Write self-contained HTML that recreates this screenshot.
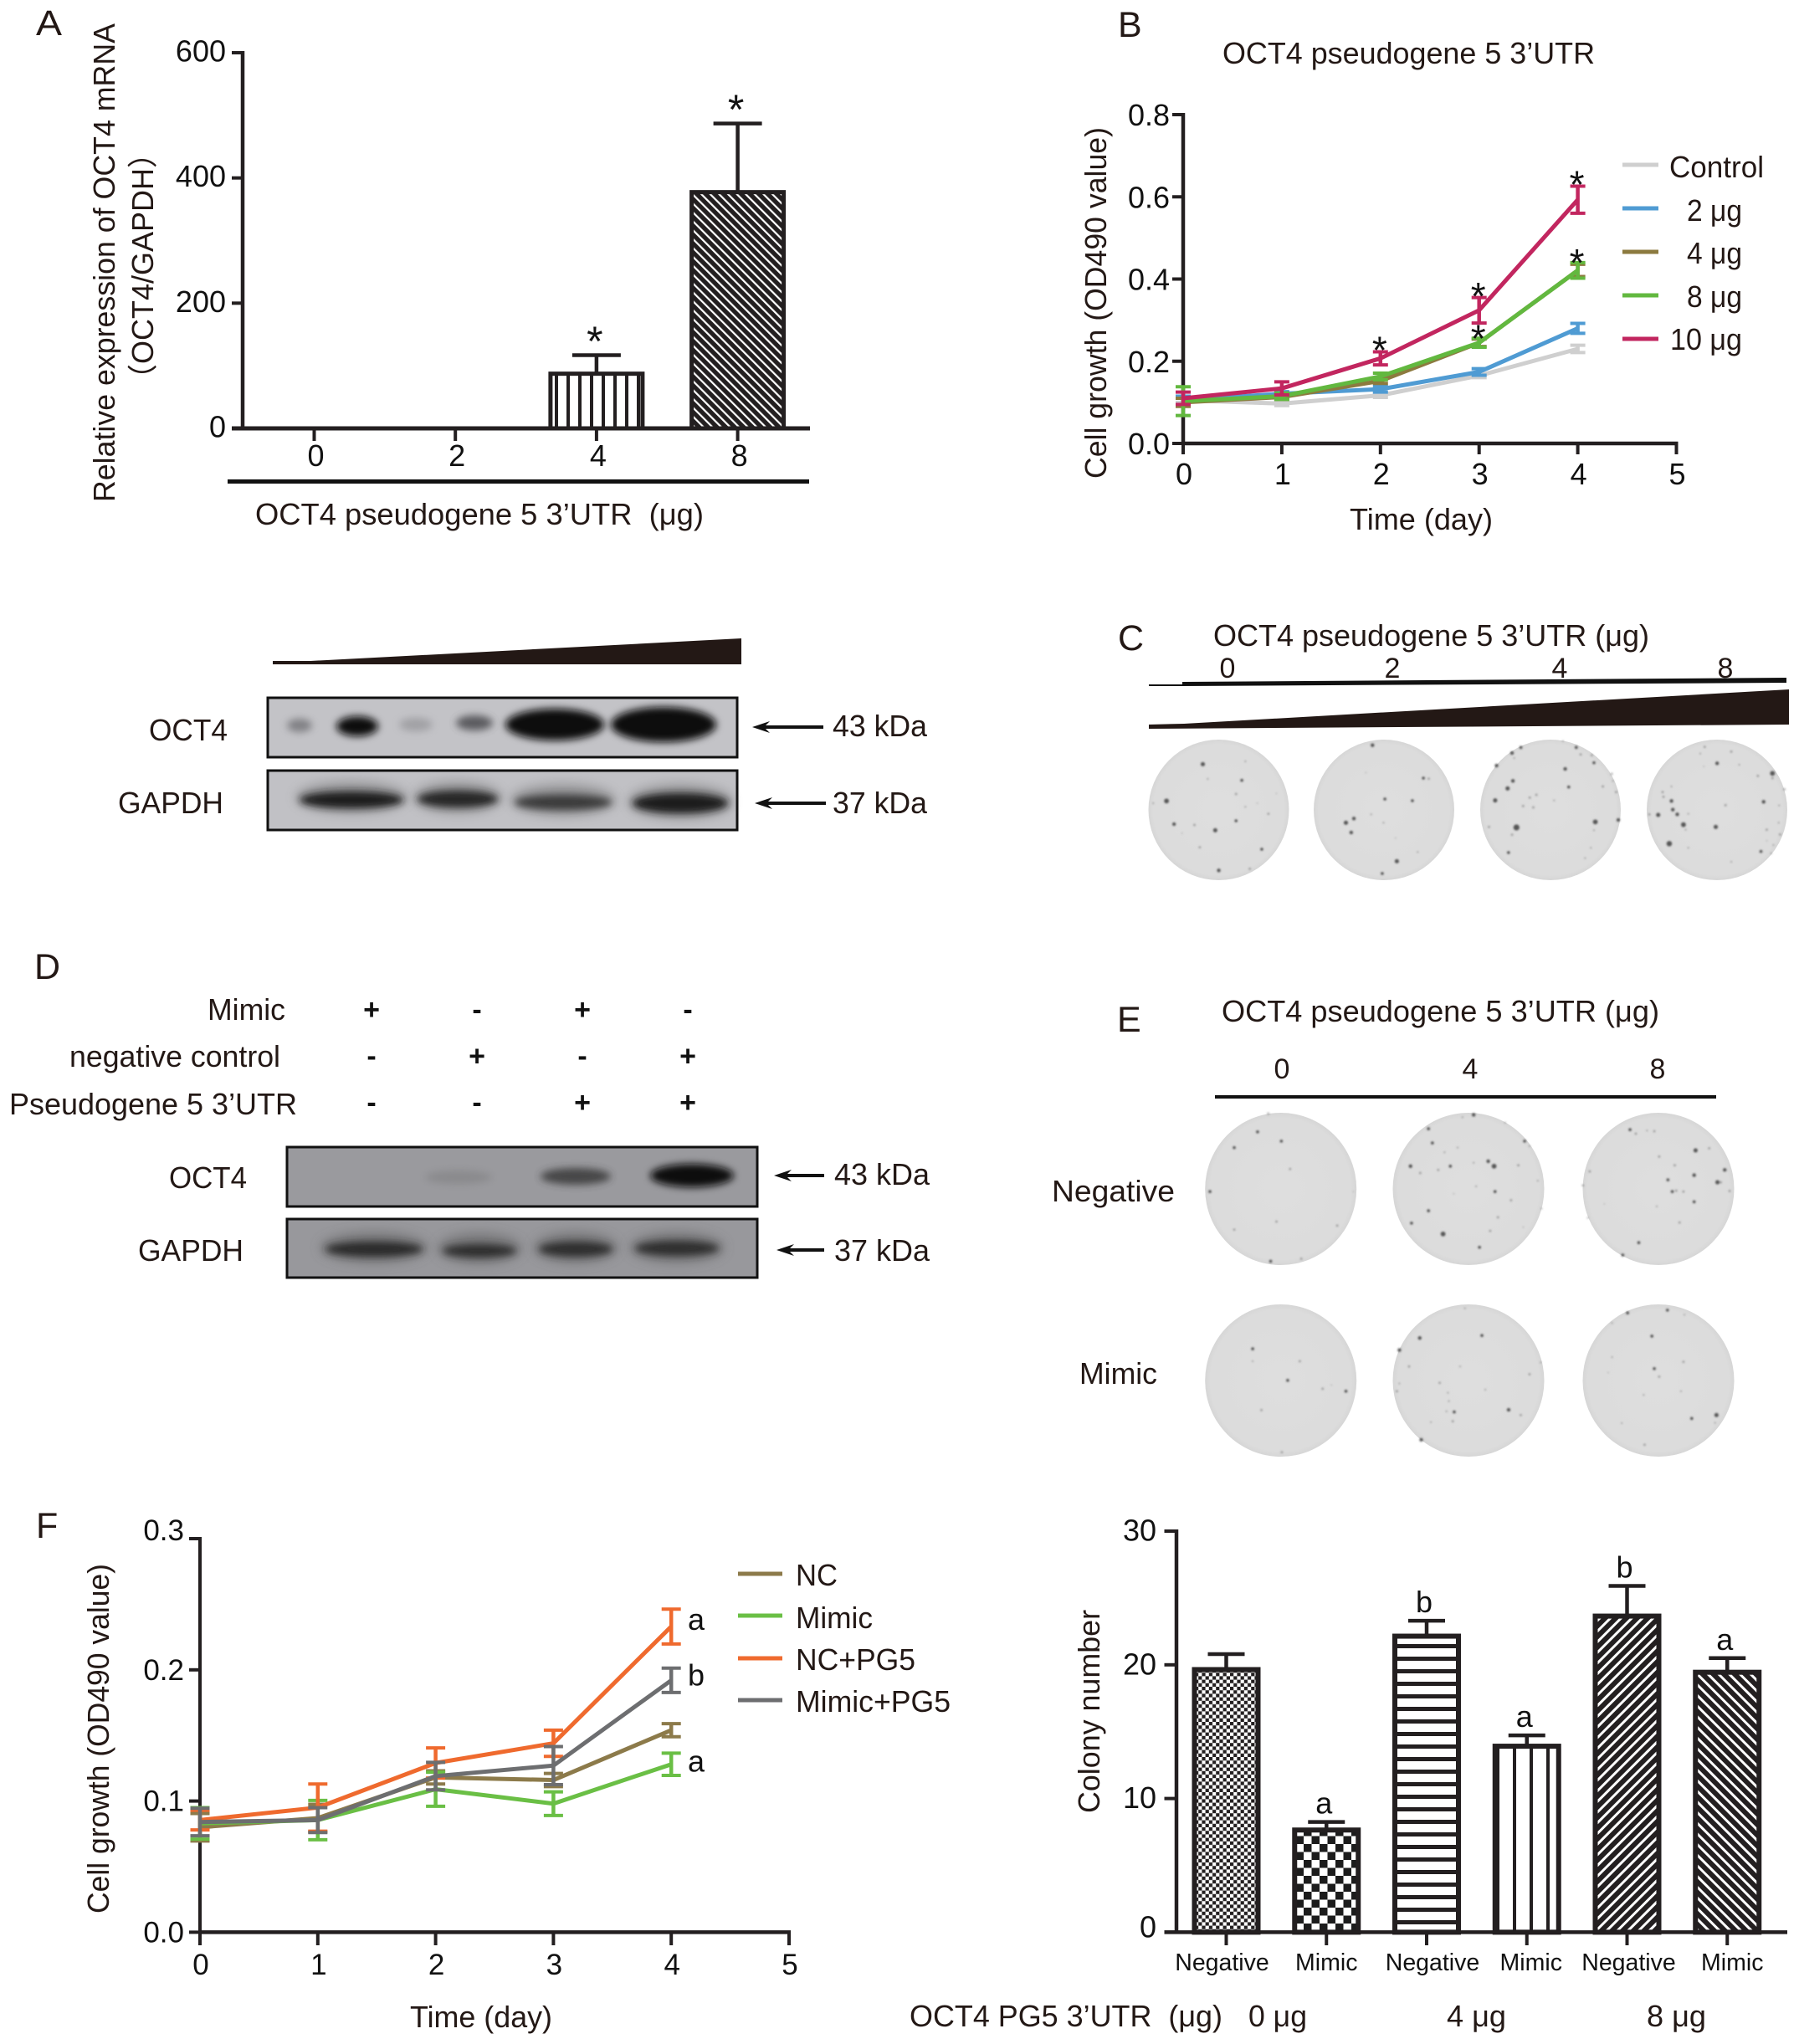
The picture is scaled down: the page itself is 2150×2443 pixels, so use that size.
<!DOCTYPE html>
<html lang="en">
<head>
<meta charset="utf-8">
<title>OCT4 pseudogene 5 3'UTR figure</title>
<style>
html,body{margin:0;padding:0;background:#fff;}
svg{display:block;}
text{font-family:"Liberation Sans","Noto Sans CJK SC",sans-serif;fill:#231815;font-size:36px;white-space:pre;}
.pl{font-size:43px;}
.num{fill:#111;}
</style>
</head>
<body>
<svg id="fig" xmlns="http://www.w3.org/2000/svg" width="2150" height="2443" viewBox="0 0 2150 2443">
<defs>
<filter id="blur5" x="-60%" y="-150%" width="220%" height="400%"><feGaussianBlur stdDeviation="7"/></filter>
<filter id="blur3" x="-60%" y="-150%" width="220%" height="400%"><feGaussianBlur stdDeviation="4.5"/></filter>
<filter id="spotBlur" x="-100%" y="-100%" width="300%" height="300%"><feGaussianBlur stdDeviation="1"/></filter>
<radialGradient id="dishFill" cx="50%" cy="50%" r="50%"><stop offset="0" stop-color="#dedede"/><stop offset="0.93" stop-color="#dcdcdc"/><stop offset="1" stop-color="#d6d6d6"/></radialGradient>
<pattern id="a-pat-0" patternUnits="userSpaceOnUse" width="10" height="10"><rect width="10" height="10" fill="#fff"/></pattern>
<pattern id="a-pat-1" patternUnits="userSpaceOnUse" width="10" height="10"><rect width="10" height="10" fill="#fff"/></pattern>
<pattern id="a-pat-2" patternUnits="userSpaceOnUse" width="14" height="10"><rect width="14" height="10" fill="#fff"/><rect x="5" width="4" height="10" fill="#231f20"/></pattern>
<pattern id="a-pat-3" patternUnits="userSpaceOnUse" width="7.5" height="8" patternTransform="rotate(-45)"><rect width="7.5" height="8" fill="#231f20"/><rect width="2.2" height="8" fill="#fff"/></pattern>
<pattern id="g-pat-0" patternUnits="userSpaceOnUse" width="8.4" height="8.4"><rect width="8.4" height="8.4" fill="#fff"/><rect width="4.2" height="4.2" fill="#231f20"/><rect x="4.2" y="4.2" width="4.2" height="4.2" fill="#231f20"/></pattern>
<pattern id="g-pat-1" patternUnits="userSpaceOnUse" width="19" height="19"><rect width="19" height="19" fill="#fff"/><rect width="9.5" height="9.5" fill="#1c1c1c"/><rect x="9.5" y="9.5" width="9.5" height="9.5" fill="#1c1c1c"/></pattern>
<pattern id="g-pat-2" patternUnits="userSpaceOnUse" width="10" height="15"><rect width="10" height="15" fill="#fff"/><rect width="10" height="5" fill="#231f20"/></pattern>
<pattern id="g-pat-3" patternUnits="userSpaceOnUse" width="20" height="10"><rect width="20" height="10" fill="#fff"/><rect x="8" width="4" height="10" fill="#231f20"/></pattern>
<pattern id="g-pat-4" patternUnits="userSpaceOnUse" width="9" height="9" patternTransform="rotate(45)"><rect width="9" height="9" fill="#231f20"/><rect width="3" height="9" fill="#fff"/></pattern>
<pattern id="g-pat-5" patternUnits="userSpaceOnUse" width="9" height="9" patternTransform="rotate(-45)"><rect width="9" height="9" fill="#231f20"/><rect width="3" height="9" fill="#fff"/></pattern>
</defs>

<rect width="2150" height="2443" fill="#fff"/>

<!-- Panel letters -->
<text class="pl" x="43" y="42" textLength="31" lengthAdjust="spacingAndGlyphs">A</text>
<text class="pl" x="1336" y="44">B</text>
<text class="pl" x="1336" y="777">C</text>
<text class="pl" x="41" y="1170">D</text>
<text class="pl" x="1335" y="1233">E</text>
<text class="pl" x="43" y="1838">F</text>

<!-- Panel A labels -->
<g id="chartA"></g>
<text transform="translate(137,600) rotate(-90)" textLength="572" lengthAdjust="spacingAndGlyphs">Relative expression of OCT4 mRNA</text>
<text transform="translate(183,471) rotate(-90)" textLength="306" lengthAdjust="spacingAndGlyphs">（OCT4/GAPDH）</text>
<rect x="272" y="573" width="695" height="5" fill="#111"/>
<text x="305" y="627" textLength="536" lengthAdjust="spacingAndGlyphs">OCT4 pseudogene 5 3’UTR&#160;&#160;(μg)</text>

<!-- Blot A -->
<polygon points="326,790 371,790 886,763 886,794 326,794" fill="#231815"/>
<rect x="320" y="834" width="561" height="71" fill="#c3c3c7" stroke="#111" stroke-width="3"/>
<g>
<ellipse cx="358" cy="867" rx="15" ry="8" fill="#6a6a6e" opacity=".75" filter="url(#blur3)"/>
<ellipse cx="427" cy="868" rx="25" ry="12" fill="#111" filter="url(#blur3)"/>
<ellipse cx="497" cy="866" rx="20" ry="8" fill="#8a8a8e" opacity=".6" filter="url(#blur3)"/>
<ellipse cx="567" cy="864" rx="22" ry="9" fill="#4a4a4e" opacity=".85" filter="url(#blur3)"/>
<ellipse cx="663" cy="866" rx="59" ry="19" fill="#0d0d0d" filter="url(#blur3)"/>
<ellipse cx="793" cy="866" rx="63" ry="21" fill="#0d0d0d" filter="url(#blur3)"/>
</g>
<rect x="320" y="921" width="561" height="71" fill="#c1c1c5" stroke="#111" stroke-width="3"/>
<g>
<ellipse cx="420" cy="953" rx="66" ry="18" fill="#555" opacity=".45" filter="url(#blur5)"/>
<ellipse cx="547" cy="953" rx="52" ry="18" fill="#555" opacity=".45" filter="url(#blur5)"/>
<ellipse cx="673" cy="956" rx="62" ry="18" fill="#555" opacity=".45" filter="url(#blur5)"/>
<ellipse cx="813" cy="958" rx="62" ry="20" fill="#555" opacity=".45" filter="url(#blur5)"/>
<ellipse cx="420" cy="956" rx="62" ry="10" fill="#1c1c1c" filter="url(#blur3)"/>
<ellipse cx="547" cy="955" rx="48" ry="10" fill="#252525" filter="url(#blur3)"/>
<ellipse cx="673" cy="959" rx="58" ry="9" fill="#3a3a3a" filter="url(#blur3)"/>
<ellipse cx="813" cy="960" rx="57" ry="12" fill="#1c1c1c" filter="url(#blur3)"/>
</g>
<text x="178" y="885" textLength="94" lengthAdjust="spacingAndGlyphs">OCT4</text>
<text x="141" y="972" textLength="126" lengthAdjust="spacingAndGlyphs">GAPDH</text>
<polygon points="899,869 920,862 915,867 984,867 984,871 915,871 920,876" fill="#111"/>
<polygon points="902,960 923,953 918,958 987,958 987,962 918,962 923,967" fill="#111"/>
<text x="995" y="880" textLength="113" lengthAdjust="spacingAndGlyphs">43 kDa</text>
<text x="995" y="972" textLength="113" lengthAdjust="spacingAndGlyphs">37 kDa</text>

<!-- Panel B labels -->
<g id="chartB"></g>
<text x="1461" y="76" textLength="445" lengthAdjust="spacingAndGlyphs">OCT4 pseudogene 5 3’UTR</text>
<text transform="translate(1322,572) rotate(-90)" textLength="420" lengthAdjust="spacingAndGlyphs">Cell growth (OD490 value)</text>
<text x="1613" y="633" textLength="171" lengthAdjust="spacingAndGlyphs">Time (day)</text>
<g>
<line x1="1939" x2="1982" y1="197" y2="197" stroke="#cfcfcf" stroke-width="5"/>
<line x1="1939" x2="1982" y1="249" y2="249" stroke="#4f9bd3" stroke-width="5"/>
<line x1="1939" x2="1982" y1="301" y2="301" stroke="#8c7a3f" stroke-width="5"/>
<line x1="1939" x2="1982" y1="353" y2="353" stroke="#62b83f" stroke-width="5"/>
<line x1="1939" x2="1982" y1="405" y2="405" stroke="#c2265f" stroke-width="5"/>
<text x="1995" y="212" textLength="113" lengthAdjust="spacingAndGlyphs">Control</text>
<text x="2016" y="264" textLength="66" lengthAdjust="spacingAndGlyphs">2 μg</text>
<text x="2016" y="315" textLength="66" lengthAdjust="spacingAndGlyphs">4 μg</text>
<text x="2016" y="367" textLength="66" lengthAdjust="spacingAndGlyphs">8 μg</text>
<text x="1996" y="418" textLength="86" lengthAdjust="spacingAndGlyphs">10 μg</text>
</g>

<!-- Panel C -->
<text x="1450" y="772" textLength="521" lengthAdjust="spacingAndGlyphs">OCT4 pseudogene 5 3’UTR (μg)</text>
<text x="1467" y="810" text-anchor="middle" style="font-size:34px">0</text>
<text x="1664" y="810" text-anchor="middle" style="font-size:34px">2</text>
<text x="1864" y="810" text-anchor="middle" style="font-size:34px">4</text>
<text x="2062" y="810" text-anchor="middle" style="font-size:34px">8</text>
<polygon points="1373,818 1413,818 1413,815 2135,810 2135,816 1413,820 1373,820" fill="#111"/>
<polygon points="1373,866 1415,865 2138,824 2138,866 1373,871" fill="#231815"/>
<g id="dishesC"></g>

<!-- Panel D -->
<text x="248" y="1219" textLength="93" lengthAdjust="spacingAndGlyphs">Mimic</text>
<text x="83" y="1275" textLength="252" lengthAdjust="spacingAndGlyphs">negative control</text>
<text x="11" y="1332" textLength="344" lengthAdjust="spacingAndGlyphs">Pseudogene 5 3’UTR</text>
<g id="signGrid"></g>
<rect x="343" y="1371" width="562" height="71" fill="#9a9a9e" stroke="#111" stroke-width="3"/>
<g>
<ellipse cx="548" cy="1407" rx="40" ry="8" fill="#666" opacity=".3" filter="url(#blur3)"/>
<ellipse cx="688" cy="1406" rx="42" ry="10" fill="#333" opacity=".8" filter="url(#blur3)"/>
<ellipse cx="827" cy="1405" rx="50" ry="14" fill="#0d0d0d" filter="url(#blur3)"/>
</g>
<rect x="343" y="1457" width="562" height="70" fill="#98989c" stroke="#111" stroke-width="3"/>
<g>
<ellipse cx="447" cy="1491" rx="64" ry="18" fill="#555" opacity=".5" filter="url(#blur5)"/>
<ellipse cx="573" cy="1492" rx="50" ry="18" fill="#555" opacity=".5" filter="url(#blur5)"/>
<ellipse cx="688" cy="1491" rx="50" ry="18" fill="#555" opacity=".5" filter="url(#blur5)"/>
<ellipse cx="809" cy="1491" rx="56" ry="18" fill="#555" opacity=".5" filter="url(#blur5)"/>
<ellipse cx="447" cy="1493" rx="58" ry="9" fill="#2a2a2a" filter="url(#blur3)"/>
<ellipse cx="573" cy="1495" rx="44" ry="8" fill="#2f2f2f" filter="url(#blur3)"/>
<ellipse cx="688" cy="1493" rx="44" ry="9" fill="#2f2f2f" filter="url(#blur3)"/>
<ellipse cx="809" cy="1492" rx="50" ry="9" fill="#2f2f2f" filter="url(#blur3)"/>
</g>
<text x="202" y="1420" textLength="93" lengthAdjust="spacingAndGlyphs">OCT4</text>
<text x="165" y="1507" textLength="126" lengthAdjust="spacingAndGlyphs">GAPDH</text>
<polygon points="925,1405 946,1398 941,1403 985,1403 985,1407 941,1407 946,1412" fill="#111"/>
<polygon points="928,1494 949,1487 944,1492 985,1492 985,1496 944,1496 949,1501" fill="#111"/>
<text x="997" y="1416" textLength="114" lengthAdjust="spacingAndGlyphs">43 kDa</text>
<text x="997" y="1507" textLength="114" lengthAdjust="spacingAndGlyphs">37 kDa</text>

<!-- Panel E -->
<text x="1460" y="1221" textLength="523" lengthAdjust="spacingAndGlyphs">OCT4 pseudogene 5 3’UTR (μg)</text>
<text x="1532" y="1289" text-anchor="middle" style="font-size:34px">0</text>
<text x="1757" y="1289" text-anchor="middle" style="font-size:34px">4</text>
<text x="1981" y="1289" text-anchor="middle" style="font-size:34px">8</text>
<rect x="1452" y="1309" width="599" height="4" fill="#111"/>
<text x="1257" y="1436" textLength="147" lengthAdjust="spacingAndGlyphs">Negative</text>
<text x="1290" y="1654" textLength="93" lengthAdjust="spacingAndGlyphs">Mimic</text>
<g id="dishesE"></g>

<!-- Panel F labels -->
<g id="chartF"></g>
<text transform="translate(130,2287) rotate(-90)" textLength="418" lengthAdjust="spacingAndGlyphs">Cell growth (OD490 value)</text>
<text x="490" y="2423" textLength="170" lengthAdjust="spacingAndGlyphs">Time (day)</text>
<g>
<line x1="882" x2="935" y1="1881" y2="1881" stroke="#8c7a4a" stroke-width="5"/>
<line x1="882" x2="935" y1="1931" y2="1931" stroke="#6abf45" stroke-width="5"/>
<line x1="882" x2="935" y1="1982" y2="1982" stroke="#ef6a2e" stroke-width="5"/>
<line x1="882" x2="935" y1="2032" y2="2032" stroke="#6d6e70" stroke-width="5"/>
<text x="951" y="1895" textLength="50" lengthAdjust="spacingAndGlyphs">NC</text>
<text x="951" y="1946" textLength="92" lengthAdjust="spacingAndGlyphs">Mimic</text>
<text x="951" y="1996" textLength="143" lengthAdjust="spacingAndGlyphs">NC+PG5</text>
<text x="951" y="2046" textLength="185" lengthAdjust="spacingAndGlyphs">Mimic+PG5</text>
</g>

<!-- Panel G labels -->
<g id="chartG"></g>
<text transform="translate(1314,2167) rotate(-90)" textLength="243" lengthAdjust="spacingAndGlyphs">Colony number</text>
<text x="1087" y="2422" textLength="374" lengthAdjust="spacingAndGlyphs">OCT4 PG5 3’UTR&#160;&#160;(μg)</text>
<text x="1492" y="2422" textLength="70" lengthAdjust="spacingAndGlyphs">0 μg</text>
<text x="1729" y="2422" textLength="71" lengthAdjust="spacingAndGlyphs">4 μg</text>
<text x="1968" y="2422" textLength="71" lengthAdjust="spacingAndGlyphs">8 μg</text>
</svg>

<script>
// ---------- Panel A data ----------
const aCategories = ['0', '2', '4', '8'];
const aValues = [1, 1, 90, 380];
const aErrors = [0, 0, 27, 107];
const aTicks = [0, 200, 400, 600];
const aStars = ['', '', '*', '*'];

// ---------- Panel B data ----------
const bDays = [0, 1, 2, 3, 4];
const bYTicks = ['0.0', '0.2', '0.4', '0.6', '0.8'];
const bXTicks = ['0', '1', '2', '3', '4', '5'];
const bControl = [0.105, 0.097, 0.117, 0.165, 0.23];
const bControlErr = [0.005, 0.005, 0.005, 0.005, 0.009];
const b2ug = [0.105, 0.121, 0.132, 0.174, 0.28];
const b2ugErr = [0.01, 0.005, 0.007, 0.008, 0.012];
const b4ug = [0.1, 0.113, 0.152, 0.245, 0.421];
const b4ugErr = [0.01, 0.006, 0.006, 0.009, 0.015];
const b8ug = [0.103, 0.115, 0.163, 0.245, 0.421];
const b8ugErr = [0.035, 0.008, 0.008, 0.011, 0.019];
const b10ug = [0.11, 0.134, 0.207, 0.324, 0.593];
const b10ugErr = [0.015, 0.016, 0.016, 0.031, 0.033];
const b10Stars = ['', '', '*', '*', '*'];
const b8Stars = ['', '', '', '*', '*'];

// ---------- Panel F data ----------
const fDays = [0, 1, 2, 3, 4];
const fYTicks = ['0.0', '0.1', '0.2', '0.3'];
const fXTicks = ['0', '1', '2', '3', '4', '5'];
const fNC = [0.08, 0.087, 0.118, 0.116, 0.154];
const fNCErr = [0.0105, 0.0105, 0.005, 0.005, 0.005];
const fMimic = [0.083, 0.0855, 0.109, 0.098, 0.128];
const fMimicErr = [0.012, 0.015, 0.013, 0.009, 0.0085];
const fNCPG5 = [0.0855, 0.095, 0.129, 0.144, 0.233];
const fNCPG5Err = [0.0075, 0.018, 0.0115, 0.01, 0.0133];
const fMimicPG5 = [0.084, 0.0855, 0.119, 0.127, 0.192];
const fMimicPG5Err = [0.0105, 0.0095, 0.0105, 0.0145, 0.0093];

// ---------- Colony bar chart data ----------
const gCategories = ['Negative', 'Mimic', 'Negative', 'Mimic', 'Negative', 'Mimic'];
const gValues = [19.8, 7.8, 22.3, 14.07, 23.8, 19.6];
const gErrors = [1.0, 0.45, 1.0, 0.65, 2.1, 0.9];
const gLetters = ['', 'a', 'b', 'a', 'b', 'a'];
const gTicks = [0, 10, 20, 30];

// ---------- Treatment grid ----------
const signRows = [['+', '-', '+', '-'], ['-', '+', '-', '+'], ['-', '-', '+', '+']];

const NS = 'http://www.w3.org/2000/svg';
const AXIS = '#231f20';

function mk(tag, attrs, parent, name) {
  const el = document.createElementNS(NS, tag);
  for (const k in attrs) el.setAttribute(k, attrs[k]);
  
  
  parent.appendChild(el);
  return el;
}
function seg(p, x1, y1, x2, y2, color, w, name) {
  return mk('line', { x1, y1, x2, y2, stroke: color, 'stroke-width': w }, p, name);
}
function label(p, x, y, str, anchor, size, name) {
  const t = mk('text', { x, y, 'text-anchor': anchor, class: 'num', style: 'font-size:' + size + 'px' }, p, name);
  t.textContent = str;
  return t;
}
function star(p, x, centerY, size, name) {
  return label(p, x, centerY + size * 0.57, '*', 'middle', size, name);
}

// ---------- Panel A ----------
(function () {
  const p = document.getElementById('chartA');
  const x = i => 375.5 + i * 168.7;
  const y = v => 512 - v * 0.7483;
  aValues.forEach((v, i) => {
    if (aErrors[i] > 0) {
      seg(p, x(i), y(v), x(i), y(v + aErrors[i]), AXIS, 4.5, 'a-error-stem-' + aCategories[i]);
      seg(p, x(i) - 29, y(v + aErrors[i]), x(i) + 29, y(v + aErrors[i]), AXIS, 4.5, 'a-error-cap-' + aCategories[i]);
    }
    mk('rect', { x: x(i) - 55, y: y(v) + 2, width: 110, height: 512 - y(v) - 2, fill: 'url(#a-pat-' + i + ')', stroke: AXIS, 'stroke-width': 5 }, p, 'a-bar-' + aCategories[i]);
    if (aStars[i]) star(p, x(i) - 2, y(v + aErrors[i]) - 28, 50, 'a-significance-' + aCategories[i]);
    seg(p, x(i), 512, x(i), 527, AXIS, 4, 'a-x-tick-' + aCategories[i]);
    label(p, x(i) + 2, 557, aCategories[i], 'middle', 36, 'a-x-tick-label-' + aCategories[i]);
  });
  seg(p, 290, 61, 290, 514, AXIS, 4.5, 'a-y-axis');
  seg(p, 277, 512, 968, 512, AXIS, 5, 'a-x-axis');
  aTicks.forEach(t => {
    seg(p, 277, y(t), 290, y(t), AXIS, 4, 'a-y-tick-' + t);
    label(p, 270, y(t) + 10.5, String(t), 'end', 36, 'a-y-tick-label-' + t);
  });
})();

// ---------- Line charts ----------
function drawSeries(p, xf, yf, days, means, errs, color, capHalf, lw, name) {
  const g = mk('g', {}, p, name + '-series');
  days.forEach((d, i) => {
    const up = yf(means[i] + errs[i]), dn = yf(means[i] - errs[i]);
    seg(g, xf(d), up, xf(d), dn, color, 4.5, name + '-error-stem');
    seg(g, xf(d) - capHalf, up, xf(d) + capHalf, up, color, 4, name + '-error-cap-upper');
    seg(g, xf(d) - capHalf, dn, xf(d) + capHalf, dn, color, 4, name + '-error-cap-lower');
  });
  const pts = days.map((d, i) => xf(d) + ',' + yf(means[i])).join(' ');
  mk('polyline', { points: pts, fill: 'none', stroke: color, 'stroke-width': lw, 'stroke-linejoin': 'round' }, g, name + '-line');
}

// ---------- Panel B ----------
(function () {
  const p = document.getElementById('chartB');
  const x = d => 1414 + d * 117.9;
  const y = v => 530 - v * 491.25;
  seg(p, 1414, 135, 1414, 532, AXIS, 4.5, 'b-y-axis');
  seg(p, 1412, 530, x(5) + 2, 530, AXIS, 4.5, 'b-x-axis');
  bYTicks.forEach(t => {
    seg(p, 1401, y(+t), 1414, y(+t), AXIS, 4, 'b-y-tick-' + t);
    label(p, 1398, y(+t) + 13, t, 'end', 36, 'b-y-tick-label-' + t);
  });
  bXTicks.forEach(t => {
    seg(p, x(+t), 530, x(+t), 543, AXIS, 4, 'b-x-tick-' + t);
    label(p, x(+t) + 1, 579, t, 'middle', 36, 'b-x-tick-label-' + t);
  });
  drawSeries(p, x, y, bDays, bControl, bControlErr, '#cfcfcf', 9, 5, 'control');
  drawSeries(p, x, y, bDays, b2ug, b2ugErr, '#4f9bd3', 9, 5, '2ug');
  drawSeries(p, x, y, bDays, b4ug, b4ugErr, '#8c7a3f', 9, 5, '4ug');
  drawSeries(p, x, y, bDays, b8ug, b8ugErr, '#62b83f', 9, 5, '8ug');
  drawSeries(p, x, y, bDays, b10ug, b10ugErr, '#c2265f', 9, 5, '10ug');
  bDays.forEach((d, i) => {
    if (b10Stars[i]) star(p, x(d) - 1, y(b10ug[i] + b10ugErr[i]) - 12, 46, 'b-significance-10ug-day-' + d);
    if (b8Stars[i]) star(p, x(d) - 1, y(b8ug[i] + b8ugErr[i]) - 10, 46, 'b-significance-8ug-day-' + d);
  });
})();

// ---------- Panel F ----------
(function () {
  const p = document.getElementById('chartF');
  const x = d => 239 + d * 140.8;
  const y = v => 2309.4 - v * 1568;
  seg(p, 239, 1837, 239, 2311, AXIS, 4, 'f-y-axis');
  seg(p, 237, 2309.4, x(5) + 2, 2309.4, AXIS, 4.5, 'f-x-axis');
  fYTicks.forEach((t, i) => {
    seg(p, 226, y(+t), 239, y(+t), AXIS, 4, 'f-y-tick-' + t);
    const off = i === fYTicks.length - 1 ? 2 : 12;
    label(p, 220, y(+t) + off, t, 'end', 35, 'f-y-tick-label-' + t);
  });
  fXTicks.forEach(t => {
    seg(p, x(+t), 2309, x(+t), 2325, AXIS, 4, 'f-x-tick-' + t);
    label(p, x(+t) + 1, 2360, t, 'middle', 35, 'f-x-tick-label-' + t);
  });
  drawSeries(p, x, y, fDays, fNC, fNCErr, '#8c7a4a', 11.5, 5, 'nc');
  drawSeries(p, x, y, fDays, fMimic, fMimicErr, '#6abf45', 11.5, 5, 'mimic');
  drawSeries(p, x, y, fDays, fNCPG5, fNCPG5Err, '#ef6a2e', 11.5, 5, 'nc-pg5');
  drawSeries(p, x, y, fDays, fMimicPG5, fMimicPG5Err, '#6d6e70', 11.5, 5, 'mimic-pg5');
  label(p, 832, y(fNCPG5[4]) + 4, 'a', 'middle', 36, 'f-group-letter-nc-pg5');
  label(p, 832, y(fMimicPG5[4]) + 6, 'b', 'middle', 36, 'f-group-letter-mimic-pg5');
  label(p, 832, y(fMimic[4]) + 9, 'a', 'middle', 36, 'f-group-letter-mimic');
})();

// ---------- Colony bar chart ----------
(function () {
  const p = document.getElementById('chartG');
  const x = i => 1465.5 + i * 119.75;
  const y = v => 2309.4 - v * 15.98;
  const labelShift = i => (i % 2 ? 0 : -5) + (i === 2 ? 12 : 0) + (i === 3 ? 5 : 0) + (i === 4 ? 7 : 0) + (i === 5 ? 6 : 0);
  gValues.forEach((v, i) => {
    const top = y(v + gErrors[i]);
    seg(p, x(i), y(v), x(i), top, AXIS, 4.5, 'colony-error-stem-' + i);
    seg(p, x(i) - 22, top, x(i) + 22, top, AXIS, 4.5, 'colony-error-cap-' + i);
    mk('rect', { x: x(i) - 38, y: y(v) + 2.5, width: 76, height: 2309.4 - y(v) - 2.5, fill: 'url(#g-pat-' + i + ')', stroke: AXIS, 'stroke-width': 6 }, p, 'colony-bar-' + i);
    if (gLetters[i]) label(p, x(i) - 3, top - 10, gLetters[i], 'middle', 36, 'colony-group-letter-' + i);
    seg(p, x(i), 2309, x(i), 2325, AXIS, 4, 'colony-x-tick-' + i);
    label(p, x(i) + labelShift(i), 2355, gCategories[i], 'middle', 28.5, 'colony-category-label-' + i);
  });
  seg(p, 1406, 1828, 1406, 2311, AXIS, 4.5, 'colony-y-axis');
  seg(p, 1391.5, 2309.4, 2136, 2309.4, AXIS, 4.5, 'colony-x-axis');
  gTicks.forEach(t => {
    seg(p, 1391.5, y(t), 1406, y(t), AXIS, 4, 'colony-y-tick-' + t);
    label(p, 1382, y(t) + (t === 0 ? 6 : 11.5), String(t), 'end', 36, 'colony-y-tick-label-' + t);
  });
})();

// ---------- Panel D +/- grid ----------
(function () {
  const p = document.getElementById('signGrid');
  const xs = i => 444 + i * 126;
  signRows.forEach((row, r) => {
    row.forEach((s, c) => {
      const cy = 1207 + r * 55.5;
      const t = label(p, xs(c), cy + 11, s, 'middle', 34, 'd-treatment-sign-r' + r + '-c' + c);
      t.setAttribute('font-weight', 'bold');
    });
  });
})();
</script>

<script>
// Photographic colony plates: spot locations, in crop coordinates.
const platesC = [
  { cx: 1456.5, cy: 968, rx: 84, ry: 84, spots: [[222,580,3.5],[318,570,1.5],[310,638,2.5],[233,633,1.5],[297,687,2],[140,712,4],[110,720,1.5],[157,795,3],[203,798,2],[297,783,2.5],[250,817,3.5],[175,828,1],[215,878,2],[355,885,2.5],[258,961,3],[328,955,2],[370,758,2],[318,733,1.5],[388,685,1],[345,720,1]] },
  { cx: 1654, cy: 968, rx: 84, ry: 84, spots: [[605,512,3],[720,630,2.5],[732,632,2],[633,705,2.5],[695,711,2.5],[602,760,1.5],[563,775,3],[545,790,3.5],[557,825,3],[630,790,1.5],[660,928,3.5],[627,972,2.5],[707,895,1.5],[657,845,1],[590,610,1]] },
  { cx: 1853, cy: 968, rx: 84, ry: 84, spots: [[940,520,2.5],[1065,520,2.5],[920,540,3],[925,558,1.5],[1075,545,2],[1100,548,2],[1105,575,2.5],[885,585,3],[1040,597,3],[1145,615,2],[922,640,3],[910,667,3.5],[1048,662,2.5],[1125,660,2],[975,690,2],[960,700,2],[882,710,3.5],[1015,710,1.5],[1155,680,2],[945,730,2],[968,735,2],[1160,780,3],[1108,787,4],[930,807,5],[868,805,2],[920,833,2],[1105,817,1.5],[1098,880,1.5],[912,897,2.5],[1085,917,1.5],[1035,497,1.5],[1148,640,1.5]] },
  { cx: 2052, cy: 968, rx: 84, ry: 84, spots: [[1355,518,2],[1415,535,2],[1345,542,1.5],[1383,577,3],[1433,582,1.5],[1353,588,1],[1508,613,4],[1475,622,2],[1508,630,2],[1280,660,1.5],[1260,680,2],[1535,670,2],[1262,697,2],[1280,712,3],[1488,715,3],[1402,727,2],[1523,728,1.5],[1283,743,3],[1293,760,3],[1230,760,2],[1250,762,3.5],[1318,758,1.5],[1307,797,4],[1380,805,3.5],[1312,815,1.5],[1522,790,1.5],[1495,815,2],[1525,832,2],[1275,865,4.5],[1495,855,1],[1510,870,1.5],[1482,893,2.5],[1505,900,1.5],[1415,930,1.5],[1318,880,1.5]] }
];
const platesE = [
  { cx: 1530.7, cy: 1421, rx: 90.5, ry: 91, spots: [[475,408,2],[453,467,2.5],[502,497,2.5],[405,518,2.5],[520,587,2],[355,660,2.5],[492,757,2],[405,783,2],[617,770,2],[480,885,2.5],[543,877,2],[650,660,1]] },
  { cx: 1755, cy: 1421, rx: 90.5, ry: 91, spots: [[898,412,3],[875,420,1.5],[805,457,2.5],[963,437,1.5],[813,503,2.5],[1003,497,2.5],[838,533,1.5],[865,518,1.5],[1013,513,1.5],[928,562,3],[940,578,4],[898,567,1.5],[990,575,2],[850,578,2.5],[768,578,3],[825,590,2],[788,600,2],[942,660,2.5],[903,643,1.5],[1030,625,1.5],[975,688,2],[1038,715,1.5],[805,722,2.5],[948,743,2],[770,762,2.5],[835,797,4],[932,787,2],[910,840,2.5],[857,667,1],[1000,775,1]] },
  { cx: 1982, cy: 1421, rx: 90.5, ry: 91, spots: [[1220,460,2.5],[1232,473,2],[1270,465,2],[1255,463,1.5],[1355,527,3.5],[1383,520,2],[1280,547,2],[1312,575,2],[1352,607,3],[1415,590,3],[1137,595,2],[1298,622,2.5],[1400,630,3.5],[1407,630,2],[1123,640,2],[1307,660,2.5],[1330,660,2],[1315,657,2],[1425,658,2],[1352,693,2.5],[1275,708,1.5],[1322,760,2],[1133,745,1.5],[1238,825,2.5],[1205,865,2.5],[1167,700,1]] },
  { cx: 1530.7, cy: 1650, rx: 90.5, ry: 91, spots: [[443,1168,2.5],[443,1208,1.5],[540,1208,2],[515,1270,2.5],[587,1297,2],[635,1305,2.5],[461,1366,2],[503,1502,2],[605,1285,1]] },
  { cx: 1755, cy: 1650, rx: 90.5, ry: 91, spots: [[880,1037,1.5],[787,1133,3],[915,1125,2.5],[745,1172,3],[870,1225,1.5],[765,1225,2],[1013,1250,2],[1036,1212,1.5],[828,1278,2],[745,1280,1.5],[740,1305,2],[845,1310,1.5],[922,1300,1.5],[847,1337,1.5],[858,1372,2.5],[842,1370,1.5],[970,1365,3],[995,1382,2],[855,1402,2],[810,1405,1.5],[790,1462,3]] },
  { cx: 1982, cy: 1650, rx: 90.5, ry: 91, spots: [[1215,1052,2.5],[1297,1043,2.5],[1332,1058,1.5],[1183,1085,1.5],[1265,1127,2.5],[1183,1195,1.5],[1330,1210,2],[1270,1232,2.5],[1280,1258,2],[1175,1245,1],[1325,1305,1.5],[1248,1317,1.5],[1347,1393,2.5],[1398,1382,3.5],[1395,1407,1.5],[1203,1408,1.5],[1250,1478,2]] }
];
function drawPlates(parentId, plates, ox, oy, sx, sy, prefix) {
  const parent = document.getElementById(parentId);
  plates.forEach((pl, i) => {
    const dish = document.createElementNS(NS, 'ellipse');
    dish.setAttribute('cx', pl.cx);
    dish.setAttribute('cy', pl.cy);
    dish.setAttribute('rx', pl.rx);
    dish.setAttribute('ry', pl.ry);
    dish.setAttribute('fill', 'url(#dishFill)');
    
    
    parent.appendChild(dish);
    const g = document.createElementNS(NS, 'g');
    g.setAttribute('filter', 'url(#spotBlur)');
    
    
    parent.appendChild(g);
    pl.spots.forEach(s => {
      const c = document.createElementNS(NS, 'circle');
      c.setAttribute('cx', ox + s[0] / sx);
      c.setAttribute('cy', oy + s[1] / sy);
      c.setAttribute('r', s[2] * 0.72);
      c.setAttribute('fill', s[2] > 2 ? '#333' : '#666');
      c.setAttribute('opacity', s[2] > 2 ? 0.8 : 0.5);
      
      
      g.appendChild(c);
    });
  });
}
drawPlates('dishesC', platesC, 1320, 720, 1.889, 3, 'c');
drawPlates('dishesE', platesE, 1240, 1180, 1.723, 2.703, 'e');
</script>
</body>
</html>
